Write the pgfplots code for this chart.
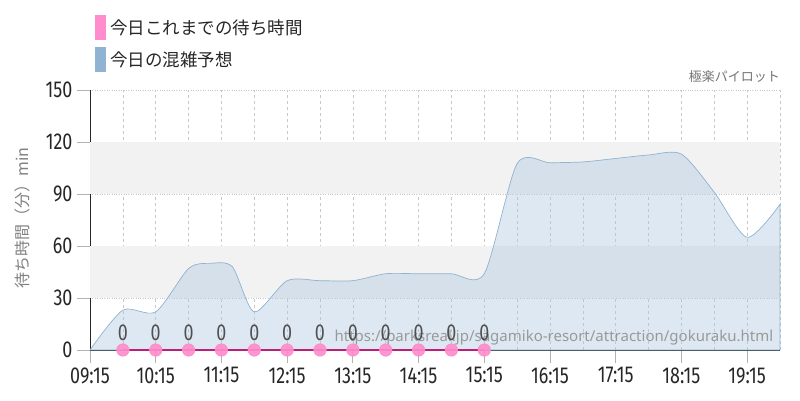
\documentclass[border=0pt]{standalone}
\usepackage{pgfplots}
\pgfplotsset{compat=1.18}
\usepackage{fontspec}
\setmainfont{Noto Sans}
\newfontfamily\cjk{Noto Sans CJK JP}
\newfontfamily\tickfont[FakeStretch=0.78]{Fira Sans}
\definecolor{pinkm}{RGB}{255,140,204}
\definecolor{pinkl}{RGB}{190,30,120}
\definecolor{bluel}{RGB}{143,179,208}
\definecolor{bluef}{RGB}{170,198,222}
\definecolor{band}{RGB}{242,242,242}
\definecolor{gridc}{RGB}{200,200,200}
\begin{document}
\begin{tikzpicture}[x=1pt,y=1pt]
\path[use as bounding box] (0,0) rectangle (800,400);
% legend
\fill[pinkm] (95,360) rectangle (106,385);
\fill[bluel] (95,328) rectangle (106,353);
\node[anchor=west,inner sep=0,text=black!85] at (110,372.5) {\cjk\fontsize{17.5}{17.5}\selectfont 今日これまでの待ち時間};
\node[anchor=west,inner sep=0,text=black!85] at (110,340.5) {\cjk\fontsize{17.5}{17.5}\selectfont 今日の混雑予想};
\node[anchor=east,inner sep=0,text=black!55] at (780,323) {\cjk\fontsize{13}{13}\selectfont 極楽パイロット};
\node[rotate=90,inner sep=0,text=black!50] at (22,182) {\cjk\fontsize{16}{16}\selectfont 待ち時間（分）min};
\begin{axis}[
  at={(90pt,50pt)}, anchor=origin,
  scale only axis, width=690pt, height=260pt,
  xmin=0, xmax=630, ymin=0, ymax=150,
  axis lines*=left,
  axis line style={black!85, line width=1pt},
  xtick={0,60,...,600},
  xticklabels={09:15,10:15,11:15,12:15,13:15,14:15,15:15,16:15,17:15,18:15,19:15},
  minor xtick={30,90,...,630},
  ytick={0,30,...,150},
  xmajorgrids, xminorgrids, ymajorgrids,
  x grid style={gridc, dashed, line width=0.6pt},
  minor x grid style={gridc, dashed, line width=0.6pt},
  y grid style={gridc, dotted, line width=0.8pt},
  tick align=outside,
  major tick length=13pt,
  minor tick length=0pt,
  tick style={black!30, line width=0.8pt},
  /pgf/number format/assume math mode=true,
  tick label style={font=\tickfont\fontsize{23}{23}\selectfont, text=black!85},
  xticklabel style={yshift=-1pt},
  yticklabel style={xshift=-1pt},
  clip=false,
]
\fill[band] (axis cs:0,30) rectangle (axis cs:630,60);
\fill[band] (axis cs:0,90) rectangle (axis cs:630,120);
\addplot[draw=bluel, line width=0.7pt, fill=bluef, fill opacity=0.4, smooth, tension=0.45] coordinates {
(0,0) (30,23) (60,22) (90,47) (110,50) (130,48) (150,22) (180,40) (210,40) (240,40) (270,44) (300,44) (330,44) (360,44) (390,107.5) (420,108) (450,108.5) (480,110.5) (510,112.5) (540,113) (570,91) (600,65) (630,84)
} \closedcycle;
\node[anchor=east,inner sep=0,text=black!40] at (axis cs:624,7) {\fontsize{15}{15}\selectfont https://parksreal.jp/sagamiko-resort/attraction/gokuraku.html};
\addplot[pinkl, line width=1.2pt, mark=*, mark size=6pt, mark options={draw=pinkm, fill=pinkm, fill opacity=0.9, draw opacity=0.9},
  nodes near coords, every node near coord/.append style={font=\tickfont\fontsize{23}{23}\selectfont, text=black!75, yshift=5pt}] coordinates {
(30,0) (60,0) (90,0) (120,0) (150,0) (180,0) (210,0) (240,0) (270,0) (300,0) (330,0) (360,0)
};
\end{axis}
\end{tikzpicture}
\end{document}
